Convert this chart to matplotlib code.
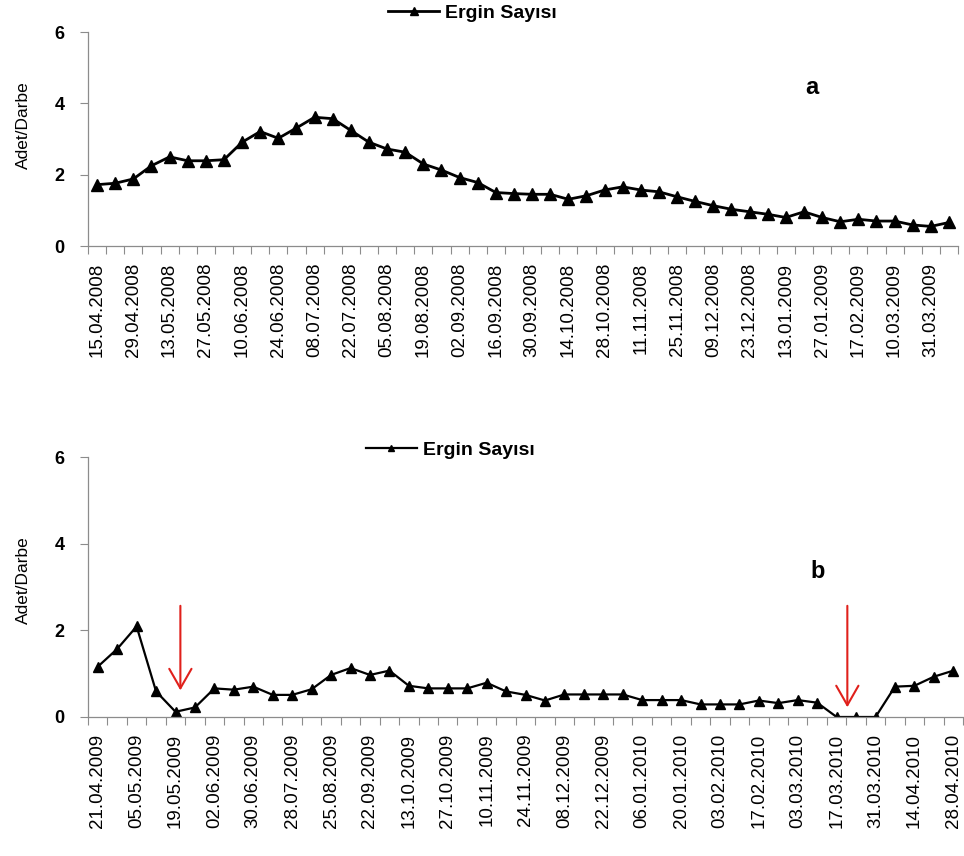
import numpy as np
import matplotlib
matplotlib.use('Agg')
import matplotlib.pyplot as plt

plt.rcParams['font.family'] = ['Liberation Sans', 'DejaVu Sans']

# --- data (a): 15.04.2008 - 31.03.2009, labels on every other sampling date
labels_a = ['15.04.2008', '29.04.2008', '13.05.2008', '27.05.2008', '10.06.2008',
            '24.06.2008', '08.07.2008', '22.07.2008', '05.08.2008', '19.08.2008',
            '02.09.2008', '16.09.2008', '30.09.2008', '14.10.2008', '28.10.2008',
            '11.11.2008', '25.11.2008', '09.12.2008', '23.12.2008', '13.01.2009',
            '27.01.2009', '17.02.2009', '10.03.2009', '31.03.2009']
values_a = [1.72, 1.76, 1.88, 2.25, 2.50, 2.39, 2.39, 2.42, 2.91, 3.21,
            3.02, 3.31, 3.61, 3.57, 3.24, 2.91, 2.72, 2.63, 2.30, 2.13,
            1.92, 1.78, 1.50, 1.47, 1.45, 1.45, 1.31, 1.41, 1.57, 1.66,
            1.57, 1.52, 1.38, 1.25, 1.13, 1.03, 0.96, 0.89, 0.80, 0.96,
            0.80, 0.68, 0.75, 0.70, 0.70, 0.59, 0.55, 0.66]

# --- data (b): 21.04.2009 - 28.04.2010
labels_b = ['21.04.2009', '05.05.2009', '19.05.2009', '02.06.2009', '30.06.2009',
            '28.07.2009', '25.08.2009', '22.09.2009', '13.10.2009', '27.10.2009',
            '10.11.2009', '24.11.2009', '08.12.2009', '22.12.2009', '06.01.2010',
            '20.01.2010', '03.02.2010', '17.02.2010', '03.03.2010', '17.03.2010',
            '31.03.2010', '14.04.2010', '28.04.2010']
values_b = [1.16, 1.57, 2.09, 0.59, 0.12, 0.22, 0.66, 0.63, 0.70, 0.51,
            0.51, 0.64, 0.97, 1.13, 0.97, 1.07, 0.72, 0.66, 0.66, 0.66,
            0.79, 0.59, 0.51, 0.38, 0.52, 0.52, 0.52, 0.52, 0.39, 0.39,
            0.39, 0.29, 0.29, 0.29, 0.38, 0.32, 0.39, 0.33, 0.00, 0.00,
            0.00, 0.70, 0.72, 0.93, 1.07]

series_name = 'Ergin Sayısı'
ylabel = 'Adet/Darbe'
axis_grey = '#8c8c8c'

fig = plt.figure(figsize=(9.64, 8.56), dpi=100)
ax_a = fig.add_axes([0.0913, 0.7126, 0.9025, 0.2500])
ax_b = fig.add_axes([0.0913, 0.1624, 0.9077, 0.3037])


def style_axis(ax, labels, values, ms, lw):
    n = len(values)
    x = np.arange(n)
    line, = ax.plot(x, values, color='black', lw=lw, marker='^', ms=ms,
                    label=series_name)
    ax.set_xlim(-0.5, n - 0.5)
    ax.set_ylim(0, 6)
    ax.set_yticks([0, 2, 4, 6])
    ax.set_yticklabels(['0', '2', '4', '6'], fontsize=13, fontweight='bold')
    ax.set_xticks(np.arange(0, n, 2))
    ax.set_xticklabels(labels, rotation=90, fontsize=13.5)
    ax.set_xticks(np.arange(-0.5, n, 1), minor=True)
    ax.tick_params(axis='x', which='major', length=0, pad=12)
    ax.tick_params(axis='x', which='minor', length=6, color=axis_grey, width=0.8)
    ax.tick_params(axis='y', length=6, color=axis_grey, width=0.8, pad=11)
    for s in ['top', 'right']:
        ax.spines[s].set_visible(False)
    for s in ['left', 'bottom']:
        ax.spines[s].set_color(axis_grey)
        ax.spines[s].set_linewidth(0.9)
    return line


line_a = style_axis(ax_a, labels_a, values_a, ms=8, lw=2.0)
line_b = style_axis(ax_b, labels_b, values_b, ms=6.5, lw=1.6)

fig.text(0.024, 1 - 125 / 856, ylabel, rotation=90, fontsize=12.5,
         ha='center', va='center')
fig.text(0.024, 1 - 580 / 856, ylabel, rotation=90, fontsize=12.5,
         ha='center', va='center')

leg_kw = dict(frameon=False, handlelength=2.6, handletextpad=0.3,
              prop={'size': 14, 'weight': 'bold'}, borderpad=0, loc='center',
              markerscale=0.75)
fig.legend(handles=[line_a], bbox_to_anchor=(0.49, 0.985),
           bbox_transform=fig.transFigure, **leg_kw)
fig.legend(handles=[line_b], bbox_to_anchor=(0.467, 0.474),
           bbox_transform=fig.transFigure, **leg_kw)

ax_a.text(812 / 964, 1 - 88 / 856, 'a', transform=fig.transFigure,
          fontsize=17, fontweight='bold', ha='center', va='center')
ax_b.text(818 / 964, 1 - 572 / 856, 'b', transform=fig.transFigure,
          fontsize=17, fontweight='bold', ha='center', va='center')

# red arrows marking the two treatments
for xa, ytip in [(4.25, 0.55), (38.55, 0.16)]:
    ax_b.annotate('', xy=(xa, ytip), xytext=(xa, 2.63),
                  arrowprops=dict(arrowstyle='->,head_length=1.4,head_width=0.8',
                                  color='#e0201b', lw=1.5))

fig.savefig('out.png', dpi=100)
